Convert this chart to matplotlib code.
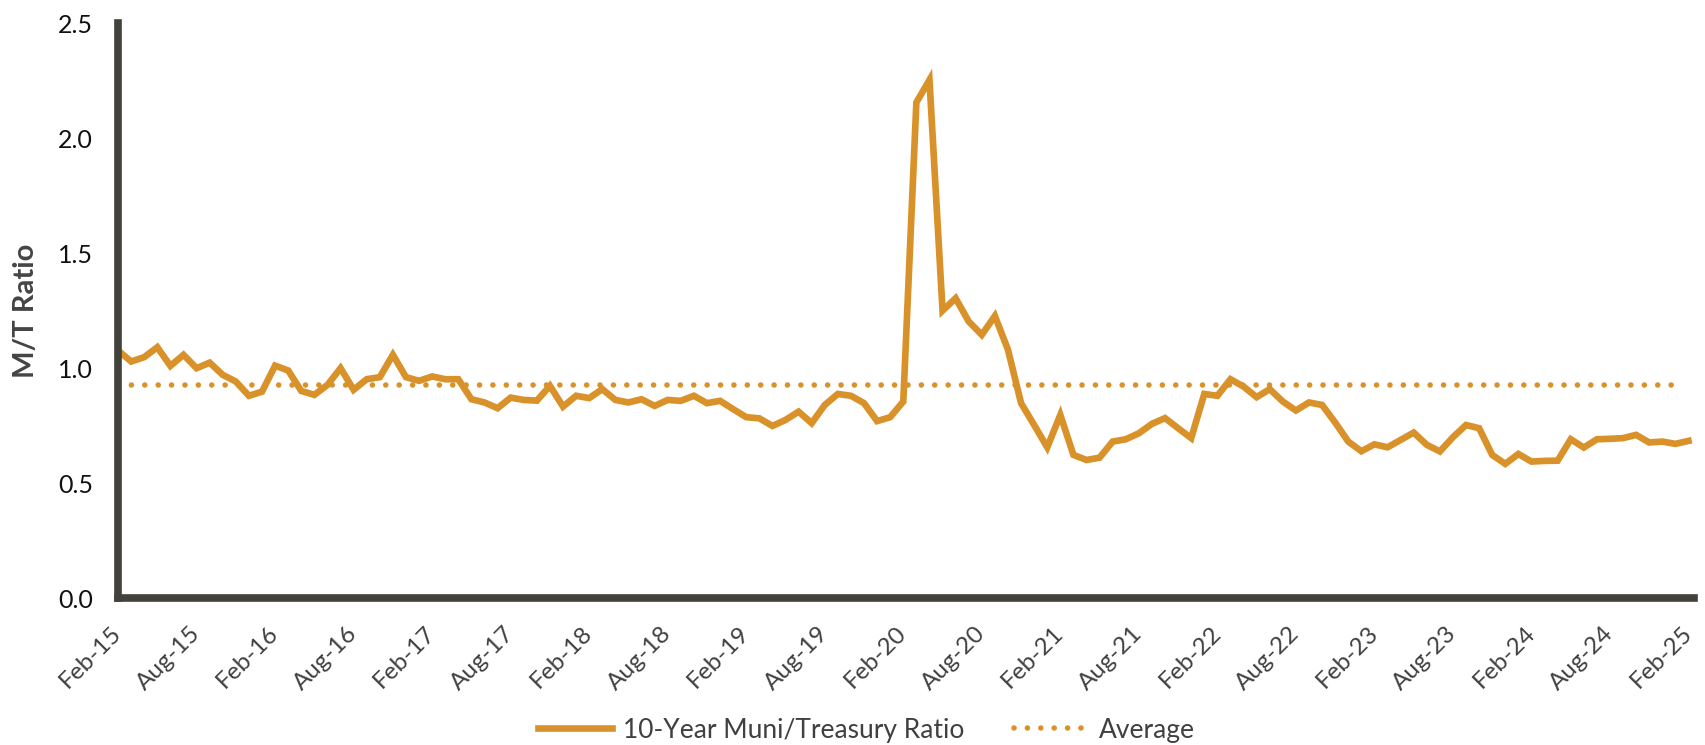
import matplotlib
matplotlib.use("Agg")
import matplotlib.pyplot as plt
import numpy as np

plt.rcParams['font.family'] = ['Lato', 'DejaVu Sans']

# monthly 10-year muni/treasury ratio, Feb-15 .. Feb-25
ratio = [
    1.077, 1.029, 1.048, 1.091, 1.010, 1.058, 1.000, 1.024, 0.971, 0.942,
    0.880, 0.898, 1.011, 0.990, 0.901, 0.884, 0.927, 1.000, 0.906, 0.952,
    0.961, 1.058, 0.961, 0.945, 0.964, 0.952, 0.952, 0.865, 0.851, 0.826,
    0.872, 0.862, 0.859, 0.923, 0.833, 0.880, 0.870, 0.909, 0.862, 0.851,
    0.865, 0.836, 0.862, 0.858, 0.880, 0.848, 0.858, 0.822, 0.787, 0.782,
    0.749, 0.775, 0.811, 0.761, 0.840, 0.888, 0.880, 0.848, 0.770, 0.787,
    0.855, 2.155, 2.253, 1.250, 1.304, 1.203, 1.145, 1.227, 1.080, 0.848,
    0.753, 0.656, 0.797, 0.623, 0.601, 0.611, 0.681, 0.691, 0.717, 0.758,
    0.783, 0.739, 0.696, 0.888, 0.880, 0.952, 0.920, 0.874, 0.909, 0.855,
    0.816, 0.851, 0.840, 0.764, 0.681, 0.639, 0.669, 0.656, 0.688, 0.720,
    0.667, 0.638, 0.700, 0.753, 0.739, 0.623, 0.584, 0.627, 0.594, 0.597,
    0.598, 0.691, 0.655, 0.691, 0.693, 0.696, 0.710, 0.677, 0.681, 0.671,
    0.684,
]
average = 0.928

tick_labels = ['Feb-15', 'Aug-15', 'Feb-16', 'Aug-16', 'Feb-17', 'Aug-17',
               'Feb-18', 'Aug-18', 'Feb-19', 'Aug-19', 'Feb-20', 'Aug-20',
               'Feb-21', 'Aug-21', 'Feb-22', 'Aug-22', 'Feb-23', 'Aug-23',
               'Feb-24', 'Aug-24', 'Feb-25']

gold = '#D9922A'
dark = '#43413C'

months = np.arange(len(ratio))

fig = plt.figure(figsize=(17.06, 7.45), dpi=100)
ax = fig.add_axes([0.0692, 0.197, 0.924, 0.772])

ax.plot(months, ratio, color=gold, lw=4.8, solid_joinstyle='miter',
        label='10-Year Muni/Treasury Ratio')
ax.plot([0, months[-1] - 0.4], [average, average], color=gold, lw=4.0,
        linestyle=(0, (0.01, 2.4)), dash_capstyle='round', label='Average')

ax.set_xlim(0, 120.45)
ax.set_ylim(0, 2.5)

ax.set_yticks(np.arange(0, 2.51, 0.5))
ax.set_yticklabels(['%.1f' % v for v in np.arange(0, 2.51, 0.5)])
ax.set_xticks(np.arange(0, 121, 6))
ax.set_xticklabels(tick_labels, rotation=45, ha='right', va='center',
                   rotation_mode='anchor')

ax.tick_params(axis='y', length=0, pad=18, labelsize=18, labelcolor='#111111')
ax.tick_params(axis='x', length=0, pad=23, labelsize=17.5, labelcolor='#404040')

for s in ['top', 'right']:
    ax.spines[s].set_visible(False)
for s in ['left', 'bottom']:
    ax.spines[s].set_linewidth(5.5)
    ax.spines[s].set_color(dark)
    ax.spines[s].set_capstyle('projecting')

ax.set_ylabel('M/T Ratio', fontsize=21, fontweight='bold', color='#444444',
              labelpad=14)

fig.legend(loc='center', bbox_to_anchor=(0.508, 0.02), ncol=2,
           frameon=False, fontsize=19, handlelength=2.8, handletextpad=0.4,
           columnspacing=1.9, labelcolor='#404040')

fig.savefig('out.png', dpi=100)
